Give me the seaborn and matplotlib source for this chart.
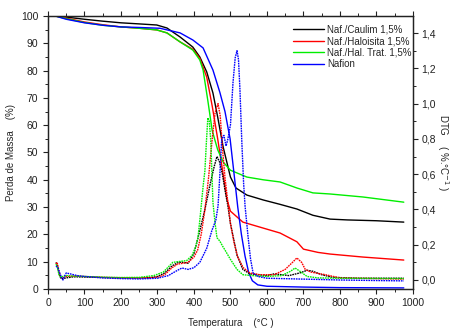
import matplotlib
matplotlib.use("Agg")
import matplotlib.pyplot as plt
import seaborn as sns
import pandas as pd
from matplotlib.ticker import MultipleLocator, FuncFormatter
from matplotlib.lines import Line2D

# ---------------- data ----------------
labels = ["Naf./Caulim 1,5%", "Naf./Haloisita 1,5%", "Naf./Hal. Trat. 1,5%", "Nafion"]
colors = ["#000000", "#ff0000", "#00ee00", "#0000ff"]

# TG curves (left axis, %)
tg_black_T = [20, 50, 100, 150, 200, 250, 298, 326, 362, 397, 416, 435, 452, 465, 480, 500, 515, 545, 590, 636, 682, 726, 773, 820, 900, 975]
tg_black_v = [100, 99.6, 98.8, 98.1, 97.5, 97.1, 96.7, 95.6, 92.3, 88.6, 85.0, 79.5, 71.8, 63, 52, 41, 37, 34.4, 32.6, 31, 29.3, 27, 25.6, 25.3, 25, 24.5]

tg_red_T = [20, 50, 100, 150, 200, 250, 298, 326, 362, 397, 416, 435, 450, 465, 480, 490, 500, 534, 590, 636, 682, 700, 740, 773, 863, 975]
tg_red_v = [100, 99.2, 97.8, 96.8, 96, 95.5, 94.9, 93.8, 90.5, 87.8, 84.5, 77.6, 67, 55, 42, 33, 28.5, 24.5, 22.3, 20.5, 17.3, 14.6, 13.4, 12.8, 11.7, 10.6]

tg_green_T = [20, 50, 100, 150, 200, 250, 298, 326, 362, 397, 416, 425, 438, 450, 465, 480, 500, 545, 590, 636, 682, 726, 773, 863, 975]
tg_green_v = [100, 99, 97.6, 96.6, 96, 95.5, 94.9, 93.8, 90.5, 87.5, 83.9, 80.2, 69, 58, 51, 46.5, 43.5, 41, 40, 39.2, 37, 35.2, 34.8, 33.7, 31.8]

tg_blue_T = [20, 50, 100, 150, 200, 250, 307, 362, 397, 425, 452, 471, 485, 499, 510, 520, 530, 540, 550, 560, 575, 600, 700, 800, 975]
tg_blue_v = [100, 98.8, 97.5, 96.6, 96, 95.8, 95.5, 93.8, 91.2, 88.3, 80.2, 72, 65, 55, 42, 30, 20, 12, 6, 3, 1.5, 1, 0.7, 0.5, 0.4]

# DTG curves (right axis, %.°C-1)
dtg_black_T = [22, 26, 30, 35, 40, 50, 70, 100, 150, 200, 250, 280, 300, 320, 340, 357, 370, 384, 400, 416, 430, 445, 455, 463, 470, 478, 485, 493, 500, 510, 518, 534, 553, 600, 620, 660, 690, 710, 725, 750, 780, 850, 975]
dtg_black_v = [0.10, 0.08, 0.04, 0.01, 0.008, 0.012, 0.018, 0.017, 0.014, 0.012, 0.011, 0.013, 0.02, 0.04, 0.08, 0.10, 0.10, 0.095, 0.15, 0.28, 0.40, 0.55, 0.64, 0.70, 0.67, 0.60, 0.51, 0.42, 0.32, 0.22, 0.14, 0.06, 0.035, 0.025, 0.035, 0.025, 0.04, 0.055, 0.05, 0.03, 0.015, 0.01, 0.01]

dtg_red_T = [22, 25, 30, 35, 40, 50, 70, 100, 150, 200, 250, 300, 320, 340, 355, 370, 384, 400, 410, 420, 430, 440, 450, 458, 466, 472, 478, 485, 493, 500, 510, 520, 535, 553, 580, 620, 650, 670, 682, 695, 705, 720, 760, 800, 975]
dtg_red_v = [0.09, 0.10, 0.05, 0.015, 0.012, 0.02, 0.022, 0.02, 0.015, 0.013, 0.012, 0.015, 0.03, 0.07, 0.09, 0.095, 0.10, 0.13, 0.17, 0.26, 0.40, 0.58, 0.80, 0.95, 1.00, 0.93, 0.75, 0.58, 0.44, 0.32, 0.21, 0.13, 0.07, 0.04, 0.03, 0.03, 0.06, 0.10, 0.125, 0.10, 0.06, 0.045, 0.03, 0.012, 0.005]

dtg_green_T = [22, 26, 30, 35, 40, 50, 70, 100, 150, 200, 250, 290, 316, 342, 360, 380, 395, 405, 411, 418, 425, 430, 434, 438, 442, 446, 449, 452, 458, 463, 471, 479, 485, 499, 518, 534, 560, 600, 640, 665, 677, 690, 710, 740, 800, 975]
dtg_green_v = [0.09, 0.07, 0.03, 0.015, 0.02, 0.025, 0.022, 0.02, 0.016, 0.014, 0.015, 0.025, 0.045, 0.10, 0.105, 0.11, 0.14, 0.19, 0.24, 0.38, 0.53, 0.62, 0.78, 0.92, 0.90, 0.79, 0.62, 0.44, 0.32, 0.24, 0.22, 0.19, 0.17, 0.12, 0.06, 0.03, 0.025, 0.02, 0.025, 0.05, 0.068, 0.05, 0.02, 0.012, 0.01, 0.008]

dtg_blue_T = [22, 27, 32, 38, 41, 45, 50, 60, 80, 100, 150, 200, 250, 300, 330, 342, 355, 367, 384, 400, 416, 435, 449, 460, 466, 471, 476, 482, 488, 493, 500, 507, 513, 518, 522, 526, 531, 536, 540, 548, 555, 562, 575, 600, 700, 800, 900, 975]
dtg_blue_v = [0.08, 0.07, 0.04, 0.01, 0.0, 0.02, 0.04, 0.035, 0.025, 0.02, 0.012, 0.008, 0.006, 0.01, 0.025, 0.04, 0.055, 0.068, 0.06, 0.07, 0.10, 0.18, 0.28, 0.34, 0.42, 0.60, 0.80, 0.82, 0.76, 0.80, 0.88, 1.12, 1.26, 1.30, 1.25, 1.08, 0.79, 0.55, 0.42, 0.25, 0.12, 0.04, 0.02, 0.01, 0.005, 0.0, -0.003, -0.005]

x_ticks = [0, 100, 200, 300, 400, 500, 600, 700, 800, 900, 1000]
left_ticks = [0, 10, 20, 30, 40, 50, 60, 70, 80, 90, 100]
right_ticks = [0.0, 0.2, 0.4, 0.6, 0.8, 1.0, 1.2, 1.4]

# ---------------- plot ----------------
sns.set_style("ticks")
plt.rcParams["font.family"] = ["Liberation Sans", "DejaVu Sans"]
plt.rcParams["axes.linewidth"] = 0.9

fig = plt.figure(figsize=(4.55, 3.29), dpi=100)
ax = fig.add_axes([0.1055, 0.1216, 0.802, 0.8298])
ax2 = ax.twinx()

tg_sets = [(tg_black_T, tg_black_v), (tg_red_T, tg_red_v), (tg_green_T, tg_green_v), (tg_blue_T, tg_blue_v)]
dtg_sets = [(dtg_black_T, dtg_black_v), (dtg_red_T, dtg_red_v), (dtg_green_T, dtg_green_v), (dtg_blue_T, dtg_blue_v)]

for (T, v), c in zip(tg_sets, colors):
    df = pd.DataFrame({"T": T, "v": v})
    sns.lineplot(data=df, x="T", y="v", ax=ax, color=c, lw=1.0, sort=False, estimator=None)

for (T, v), c in zip(dtg_sets, colors):
    df = pd.DataFrame({"T": T, "v": v})
    sns.lineplot(data=df, x="T", y="v", ax=ax2, color=c, lw=1.0, sort=False, estimator=None,
                 linestyle=(0, (1.2, 0.6)))

ax.set_xlim(0, 1000)
ax.set_ylim(0, 100)
ax2.set_ylim(-0.051, 1.497)

ax.set_xticks(x_ticks)
ax.set_yticks(left_ticks)
ax2.set_yticks(right_ticks)
ax.xaxis.set_minor_locator(MultipleLocator(50))
ax.yaxis.set_minor_locator(MultipleLocator(5))
ax2.yaxis.set_minor_locator(MultipleLocator(0.1))
ax2.yaxis.set_major_formatter(FuncFormatter(lambda val, pos: f"{val:.1f}".replace(".", ",")))

for a in (ax, ax2):
    a.tick_params(axis="both", which="major", labelsize=7.5, length=3.5, width=0.8, direction="out", colors="#222222")
    a.tick_params(axis="both", which="minor", length=2, width=0.7, direction="out")
    for s in a.spines.values():
        s.set_visible(True)
        s.set_color("#222222")
ax.tick_params(axis="x", which="both", top=True)
ax.tick_params(axis="x", which="major", pad=3)
ax2.tick_params(axis="y", which="major", pad=2.5)

ax.set_xlabel("Temperatura    (°C )", fontsize=7)
ax.set_ylabel("Perda de Massa    (%)", fontsize=7)
ax2.set_ylabel("DTG    ( %.°C$^{-1}$ )", fontsize=7, rotation=270, va="center")
ax.xaxis.set_label_coords(0.5, -0.106)
ax.yaxis.set_label_coords(-0.088, 0.5)
ax2.yaxis.set_label_coords(1.083, 0.5)

handles = [Line2D([0], [0], color=c, lw=1.0) for c in colors]
ax2.legend(handles, labels, loc="upper left", bbox_to_anchor=(0.655, 0.99), frameon=False,
           fontsize=7, handlelength=3.2, handletextpad=0.3, labelspacing=0.15, borderaxespad=0.2)

fig.savefig("out.png", dpi=100)
